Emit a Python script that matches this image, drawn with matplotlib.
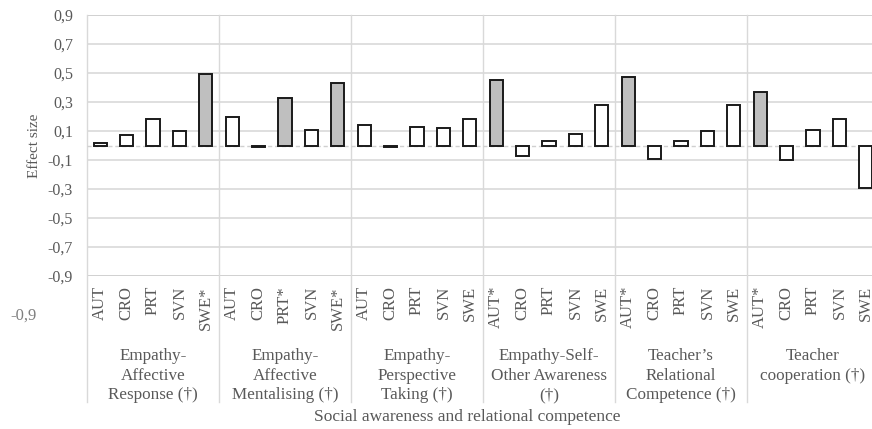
import matplotlib
matplotlib.use("Agg")
import matplotlib.pyplot as plt
from matplotlib.lines import Line2D
import matplotlib.transforms as mtransforms

groups = ["Empathy-\nAffective\nResponse (\u2020)",
          "Empathy-\nAffective\nMentalising (\u2020)",
          "Empathy-\nPerspective\nTaking (\u2020)",
          "Empathy-Self-\nOther Awareness\n(\u2020)",
          "Teacher\u2019s\nRelational\nCompetence (\u2020)",
          "Teacher\ncooperation (\u2020)"]
countries = [["AUT", "CRO", "PRT", "SVN", "SWE*"],
             ["AUT", "CRO", "PRT*", "SVN", "SWE*"],
             ["AUT", "CRO", "PRT", "SVN", "SWE"],
             ["AUT*", "CRO", "PRT", "SVN", "SWE"],
             ["AUT*", "CRO", "PRT", "SVN", "SWE"],
             ["AUT*", "CRO", "PRT", "SVN", "SWE"]]
values = [[0.02, 0.07, 0.18, 0.10, 0.49],
          [0.20, -0.01, 0.33, 0.11, 0.43],
          [0.14, -0.01, 0.13, 0.12, 0.18],
          [0.45, -0.07, 0.03, 0.08, 0.28],
          [0.47, -0.09, 0.03, 0.10, 0.28],
          [0.37, -0.10, 0.11, 0.18, -0.29]]
yticks = [-0.9, -0.7, -0.5, -0.3, -0.1, 0.1, 0.3, 0.5, 0.7, 0.9]
xlabel = "Social awareness and relational competence"
ylabel = "Effect size"

plt.rcParams['font.family'] = ['Liberation Serif', 'DejaVu Serif']
txt = '#595959'
grid = '#d9d9d9'

fig = plt.figure(figsize=(8.72, 4.29), dpi=100)
W, H = 872, 429
left, right, top, bottom = 87, 879, 15, 276
ax = fig.add_axes([left / W, 1 - bottom / H, (right - left) / W, (bottom - top) / H])

xs, vals, labs, fills = [], [], [], []
for gi, (cs, vs) in enumerate(zip(countries, values)):
    for ci, (c, v) in enumerate(zip(cs, vs)):
        xs.append(gi * 5 + ci)
        vals.append(v)
        labs.append(c)
        fills.append('#bfbfbf' if c.endswith('*') else 'white')

ax.bar(xs, vals, width=0.5, color=fills, edgecolor='#1a1a1a', linewidth=1.4, zorder=3)
ax.set_xlim(-0.5, len(xs) - 0.5)
ax.set_ylim(-0.9, 0.9)
ax.set_yticks(yticks)
ax.set_yticklabels([f"{t:.1f}".replace('.', ',') for t in yticks], fontsize=11.5, color=txt)
ax.tick_params(axis='y', length=0, pad=10)
ax.set_xticks([])
for s in ax.spines.values():
    s.set_visible(False)
for t in yticks:
    ax.axhline(t, color=grid if abs(t) < 0.85 else '#c8c8c8', lw=1.2, zorder=1)
ax.axhline(0, color='#d0d0d0', lw=1.0, ls=(0, (3, 2)), zorder=2)
ax.set_ylabel(ylabel, fontsize=11, color=txt, labelpad=5)

trans = mtransforms.blended_transform_factory(ax.transData, ax.transAxes)
ext = -(402 - bottom) / (bottom - top)
for g in range(len(groups) + 1):
    x = g * 5 - 0.5
    ax.add_line(Line2D([x, x], [1, ext], transform=trans, color=grid, lw=1.0, clip_on=False, zorder=1))

cat_y = -(286 - bottom) / (bottom - top)
for x, lab in zip(xs, labs):
    ax.text(x, cat_y, lab, transform=trans, rotation=90, ha='center', va='top',
            fontsize=12, color=txt)

grp_y = -(348 - bottom) / (bottom - top)
for gi, g in enumerate(groups):
    ax.text(gi * 5 + 2, grp_y, g, transform=trans, ha='center', va='top',
            fontsize=12.3, color=txt, linespacing=1.3)

fig.text(467 / W, 1 - 417 / H, xlabel, ha='center', va='center', fontsize=12.5, color=txt)
fig.text(23 / W, 1 - 316 / H, "-0,9", ha='center', va='center', fontsize=12, color='#7f7f7f')

fig.savefig('out.png', dpi=100)
